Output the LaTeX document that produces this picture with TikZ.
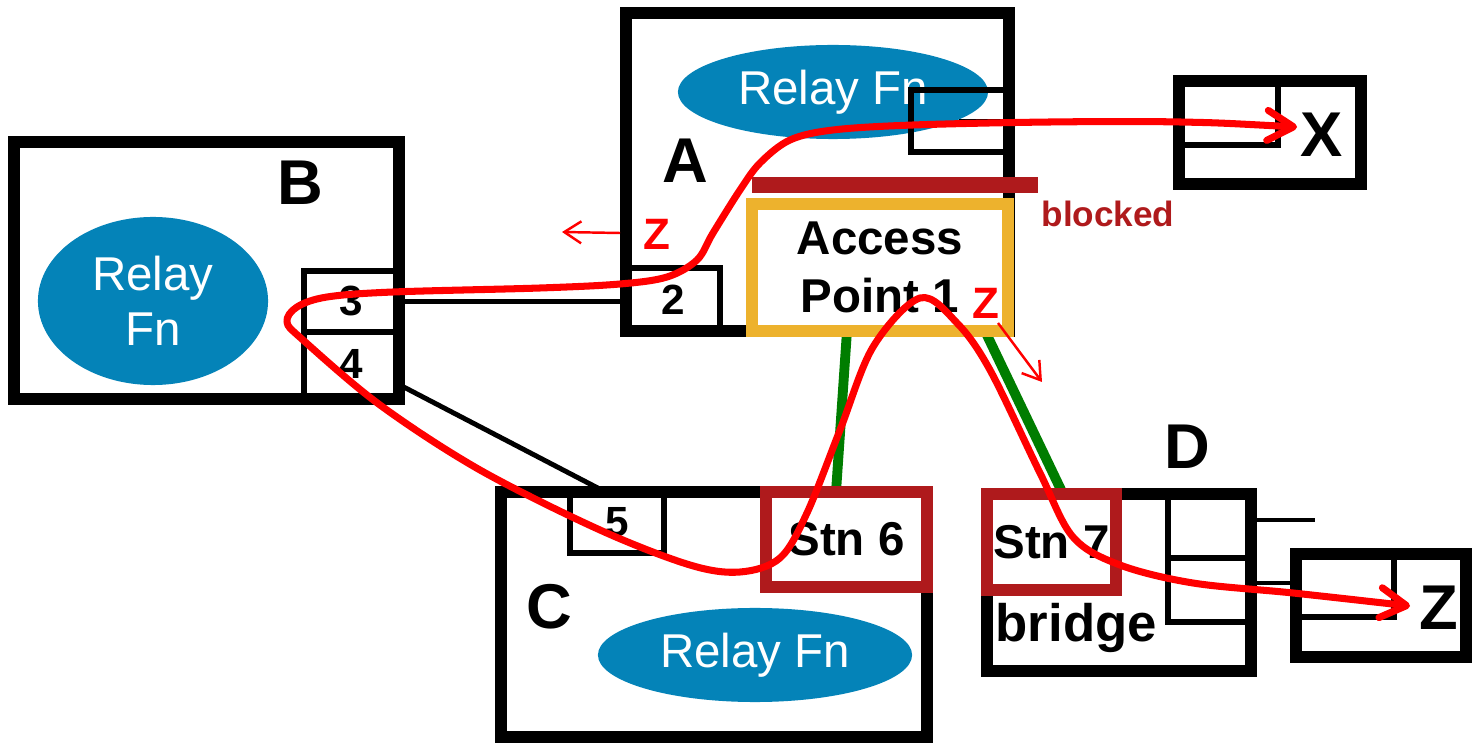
\documentclass[tikz,border=0pt]{standalone}
\usepackage{fontspec}
\setmainfont{Liberation Sans}
\usetikzlibrary{arrows.meta,shapes.geometric,positioning,calc}
\definecolor{relayblue}{RGB}{4,131,184}
\definecolor{apgold}{RGB}{237,178,45}
\definecolor{stnred}{RGB}{175,26,28}
\definecolor{wifigreen}{RGB}{0,125,0}
\begin{document}
\begin{tikzpicture}[x=0.01cm, y=-0.01cm,
  box/.style={draw, line width=3.4pt, rectangle, inner sep=0pt},
  port/.style={draw, line width=1.6pt, rectangle, inner sep=0pt, font=\bfseries\fontsize{12}{12}\selectfont},
  relay/.style={ellipse, fill=relayblue, text=white, inner sep=0pt, align=center, font=\fontsize{13.5}{15.5}\selectfont},
  apbox/.style={draw=apgold, fill=white, line width=3.4pt, inner sep=0pt, align=center, font=\bfseries\fontsize{13.5}{16.5}\selectfont},
  stn/.style={draw=stnred, fill=white, line width=3.4pt, inner sep=0pt, font=\bfseries\fontsize{13.5}{15}\selectfont},
  tag/.style={font=\bfseries\fontsize{18}{18}\selectfont},
  link/.style={line width=1.4pt},
  wifi/.style={wifigreen, line width=2.8pt},
  flow/.style={red, line width=2pt, line cap=round, line join=round},
  ztag/.style={red, font=\bfseries\fontsize{12.5}{12.5}\selectfont},
  leak/.style={red, line width=0.7pt, -{Straight Barb[length=0.17cm, width=0.22cm]}}]
\useasboundingbox (0,0) rectangle (1472,743);

\draw[wifi] (847,331) coordinate (w6a) -- (836,492) coordinate (w6b);
\draw[wifi] (985,331) coordinate (w7a) -- (1063,494) coordinate (w7b);

\node[box, minimum width=3.83cm, minimum height=3.18cm] (A) at (817.5,172) {};
\node[relay, minimum width=3.10cm, minimum height=0.94cm] (relA) at (833,92) {Relay Fn};
\node[port, minimum width=0.95cm, minimum height=0.62cm] (pA) at (958.5,121) {};
\node[port, minimum width=0.94cm, minimum height=0.63cm] (p2) at (673,299.5) {2};
\node[tag] (labA) at (685,161) {A};

\node[box, minimum width=3.85cm, minimum height=2.57cm] (B) at (206.5,270.5) {};
\node[relay, minimum width=2.30cm, minimum height=1.68cm] (relB) at (153,301) {Relay\\Fn};
\node[port, minimum width=0.95cm, minimum height=0.61cm] (p3) at (351.5,301.5) {3};
\node[port, minimum width=0.95cm, minimum height=0.64cm] (p4) at (351.5,364) {4};
\node[tag] (labB) at (300,183) {B};

\node[box, minimum width=4.26cm, minimum height=2.45cm] (C) at (714,614.5) {};
\node[relay, minimum width=3.14cm, minimum height=0.94cm] (relC) at (755,655) {Relay Fn};
\node[port, minimum width=0.94cm, minimum height=0.61cm] (p5) at (617,522.5) {5};
\node[tag] (labC) at (549,607) {C};

\node[box, minimum width=2.64cm, minimum height=1.77cm] (D) at (1119,582.5) {};
\node[port, minimum width=0.83cm, minimum height=0.64cm] (d1) at (1209.5,526) {};
\node[port, minimum width=0.83cm, minimum height=0.64cm] (d2) at (1209.5,590) {};
\node[tag] (labD) at (1187,447) {D};
\node[anchor=base west, inner sep=0pt, font=\bfseries\fontsize{15}{15}\selectfont] (brg) at (995,642) {bridge};

\node[box, minimum width=1.82cm, minimum height=1.03cm] (X) at (1270,132.5) {};
\node[port, minimum width=0.99cm, minimum height=0.64cm] (xp) at (1228.5,113) {};
\node[tag] (labX) at (1322,135) {X};

\node[box, minimum width=1.70cm, minimum height=1.03cm] (Z) at (1381,605.5) {};
\node[port, minimum width=0.98cm, minimum height=0.63cm] (zp) at (1345,585.5) {};
\node[tag] (labZ) at (1439,608) {Z};

\draw[link] (pA.center) -- (pA.center -| xp.west);
\draw[link] (p3.east) -- (p3.east -| p2.west);
\draw[link] ([yshift=-0.22cm]p4.east) -- ([xshift=-0.17cm]p5.north);
\draw[link] ([yshift=0.06cm]d1.east) -- ++(61,0);
\draw[link] ([yshift=0.07cm]d2.east) -- ([yshift=0.07cm]d2.east -| Z.west);

\node[apbox, minimum width=2.56cm, minimum height=1.27cm] (ap) at (880,267.5) {Access\\Point 1};
\node[stn, minimum width=1.61cm, minimum height=0.95cm] (s6) at (846.5,539.5) {Stn 6};
\node[stn, minimum width=1.29cm, minimum height=0.96cm] (s7) at (1051.5,542) {Stn 7};

\draw[stnred, line width=4.6pt] ([xshift=0.06cm, yshift=0.13cm]ap.north west) coordinate (blk) -- ++(286,0);
\node[stnred, font=\bfseries\fontsize{10}{10}\selectfont] (blkT) at (1108,214) {blocked};

\node[ztag] (z1) at (657,234) {Z};
\node[ztag] (z2) at (986,303) {Z};
\draw[leak] (620,233) coordinate (lk1) -- (562,232);
\draw[leak] (998,323) coordinate (lk2) -- (1042,382);

\coordinate (xtip) at (1297,127);
\coordinate (ztip) at (1410,606);
\draw[flow, {Straight Barb[length=0.26cm, width=0.3cm, round]}-{Straight Barb[length=0.26cm, width=0.3cm, round]}]
  plot[smooth, tension=0.55] coordinates {(xtip) (1180,122) (1050,122) (913,125) (833,130) (790,140) (760,163) (740,190) (713,233) (697,260) (667,277) (620,284) (540,288) (393,292) (327,297) (297,307) (287,322) (303,340) (380,405) (480,470) (600,530) (690,565) (740,572) (780,558) (807,513) (840,430) (873,347) (920,298) (957,323) (990,370) (1040,473) (1073,537) (1120,565) (1193,583) (1293,593) (ztip)};
\end{tikzpicture}
\end{document}
